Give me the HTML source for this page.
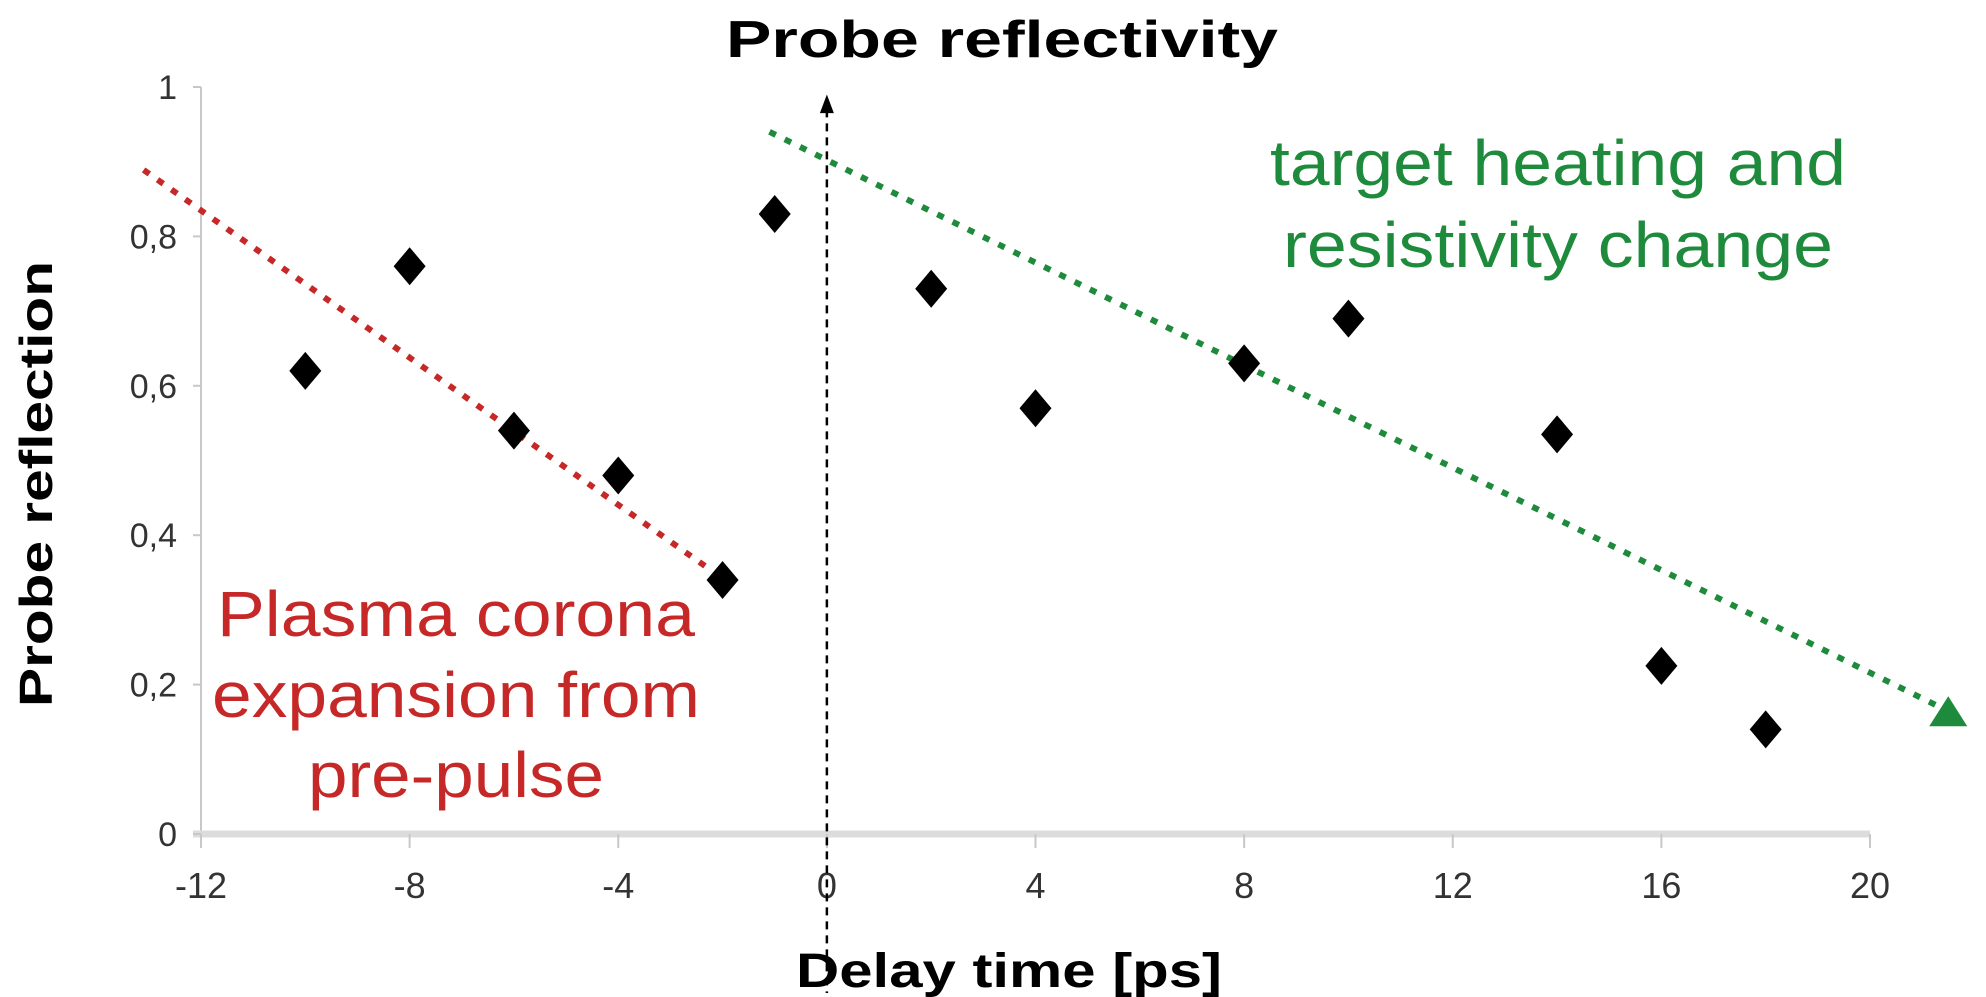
<!DOCTYPE html>
<html><head><meta charset="utf-8"><style>
html,body{margin:0;padding:0;background:#fff;}
svg{display:block;font-family:"Liberation Sans",sans-serif;}
</style></head><body>
<svg id="chart" width="1986" height="997" viewBox="0 0 1986 997" xmlns="http://www.w3.org/2000/svg">
<text x="1002" y="57" text-anchor="middle" font-size="52" font-weight="bold" fill="#000" textLength="552" lengthAdjust="spacingAndGlyphs">Probe reflectivity</text>
<text transform="translate(52,484) rotate(-90)" text-anchor="middle" font-size="46" font-weight="bold" fill="#000" textLength="446" lengthAdjust="spacingAndGlyphs">Probe reflection</text>
<text x="1009" y="987" text-anchor="middle" font-size="48" font-weight="bold" fill="#000" textLength="426" lengthAdjust="spacingAndGlyphs">Delay time [ps]</text>
<g id="axes"></g>
<g id="marks"></g>
<text x="456" y="636" text-anchor="middle" font-size="64" fill="#c62828" textLength="478" lengthAdjust="spacingAndGlyphs">Plasma corona</text>
<text x="456" y="717" text-anchor="middle" font-size="64" fill="#c62828" textLength="488" lengthAdjust="spacingAndGlyphs">expansion from</text>
<text x="456" y="797" text-anchor="middle" font-size="64" fill="#c62828" textLength="296" lengthAdjust="spacingAndGlyphs">pre-pulse</text>
<text x="1558" y="185" text-anchor="middle" font-size="64" fill="#1e8a3c" textLength="576" lengthAdjust="spacingAndGlyphs">target heating and</text>
<text x="1558" y="267" text-anchor="middle" font-size="64" fill="#1e8a3c" textLength="550" lengthAdjust="spacingAndGlyphs">resistivity change</text>
</svg>
<script>
const xTicks = [-12,-8,-4,0,4,8,12,16,20];
const xTickLabels = ["-12","-8","-4","0","4","8","12","16","20"];
const yTicks = [0,0.2,0.4,0.6,0.8,1];
const yTickLabels = ["0","0,2","0,4","0,6","0,8","1"];
const delays = [-10,-8,-6,-4,-2,-1,2,4,8,10,14,16,18];
const reflection = [0.62,0.76,0.54,0.48,0.34,0.83,0.73,0.57,0.63,0.69,0.535,0.225,0.14];
const plasmaTrendX = [-13.1,-2.24];
const plasmaTrendY = [0.889,0.354];
const heatingTrendX = [-1.1,21.5];
const heatingTrendY = [0.94,0.163];
const zeroLineX = [0];

const NS="http://www.w3.org/2000/svg";
const X0=201, X1=1870, XMIN=-12, XMAX=20;
const Y0=834, Y1=87;
function sx(v){return X0+(v-XMIN)*(X1-X0)/(XMAX-XMIN);}
function sy(v){return Y0-v*(Y0-Y1);}
function mk(tag,attrs,parent){const e=document.createElementNS(NS,tag);for(const k in attrs)e.setAttribute(k,attrs[k]);parent.appendChild(e);return e;}
const axes=document.getElementById('axes'), marks=document.getElementById('marks');

let ya=mk('line',{x1:X0,y1:Y1,x2:X0,y2:Y0+12,stroke:'#c8c8c8','stroke-width':2},axes);


let xa=mk('line',{x1:X0-8,y1:Y0,x2:X1,y2:Y0,stroke:'#dcdcdc','stroke-width':7},axes);


xTicks.forEach((t,i)=>{
  const tk=mk('line',{x1:sx(t),y1:Y0,x2:sx(t),y2:Y0+14,stroke:'#c8c8c8','stroke-width':2},axes);
  
  
  const tl=mk('text',{x:sx(t),y:Y0+64,'text-anchor':'middle','font-size':36,fill:'#333'},axes);
  tl.textContent=xTickLabels[i];
  
  
});
yTicks.forEach((t,i)=>{
  const tk=mk('line',{x1:X0-8,y1:sy(t),x2:X0,y2:sy(t),stroke:'#c8c8c8','stroke-width':2},axes);
  
  
  const tl=mk('text',{x:X0-24,y:sy(t)+12,'text-anchor':'end','font-size':34,fill:'#333'},axes);
  tl.textContent=yTickLabels[i];
  
  
});

const zx=sx(zeroLineX[0]);
const zl=mk('line',{x1:zx,y1:sy(0.97),x2:zx,y2:993,stroke:'#000','stroke-width':2.5,'stroke-dasharray':'8,6'},marks);


const za=mk('polygon',{points:`${zx},${sy(0.99)} ${zx-7},${sy(0.965)} ${zx+7},${sy(0.965)}`,fill:'#000'},marks);



const pt=mk('line',{x1:sx(plasmaTrendX[0]),y1:sy(plasmaTrendY[0]),x2:sx(plasmaTrendX[1]),y2:sy(plasmaTrendY[1]),stroke:'#c62828','stroke-width':6,'stroke-dasharray':'7,10'},marks);


const ht=mk('line',{x1:sx(heatingTrendX[0]),y1:sy(heatingTrendY[0]),x2:sx(heatingTrendX[1])-10,y2:sy(heatingTrendY[1])-6,stroke:'#1e8a3c','stroke-width':6,'stroke-dasharray':'7,10'},marks);


const hx=sx(heatingTrendX[1]), hy=sy(heatingTrendY[1]);
const ha=mk('polygon',{points:`${hx},${hy-16} ${hx-19},${hy+14} ${hx+19},${hy+14}`,fill:'#1e8a3c'},marks);



delays.forEach((d,i)=>{
  const cx=sx(d), cy=sy(reflection[i]);
  const p=mk('polygon',{points:`${cx},${cy-19} ${cx+16},${cy} ${cx},${cy+19} ${cx-16},${cy}`,fill:'#000'},marks);
  
  
});
</script>
</body></html>
